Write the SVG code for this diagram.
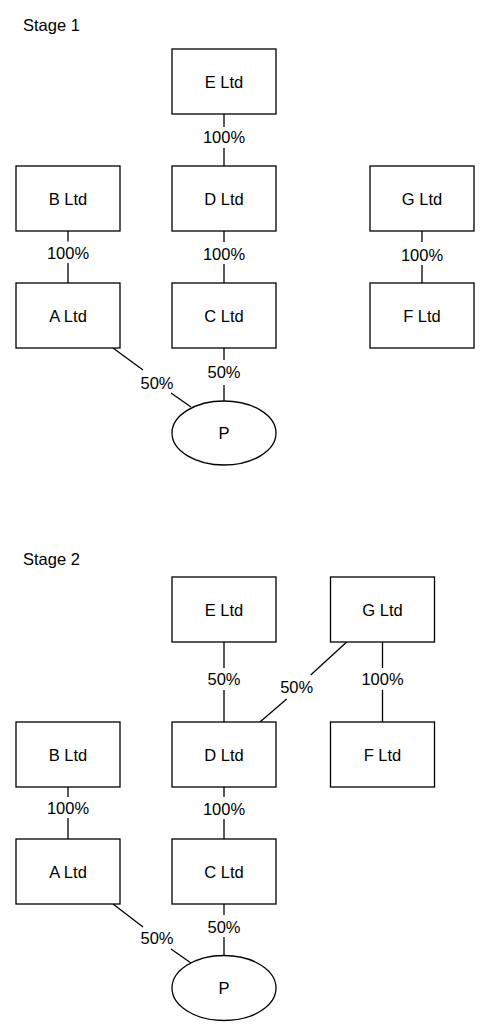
<svg xmlns="http://www.w3.org/2000/svg" width="490" height="1036" viewBox="0 0 490 1036">
<style>
  text { font-family: "Liberation Sans", Arial, sans-serif; font-size: 16.5px; fill: #000; }
  .lbl { text-anchor: middle; }
  .box { fill: #fff; stroke: #000; stroke-width: 1.3; }
  .con line { stroke: #000; stroke-width: 1.3; }
</style>
<rect width="490" height="1036" fill="#fff"/>
<text x="23" y="31">Stage 1</text>
<text x="23" y="565">Stage 2</text>

<g id="connectors" class="con">
  <!-- Stage 1 -->
  <line x1="224" y1="114" x2="224" y2="127"/><line x1="224" y1="148" x2="224" y2="166"/>
  <line x1="68" y1="231" x2="68" y2="241.5"/><line x1="68" y1="263" x2="68" y2="283"/>
  <line x1="224" y1="231" x2="224" y2="242"/><line x1="224" y1="264" x2="224" y2="283"/>
  <line x1="422" y1="231" x2="422" y2="242"/><line x1="422" y1="265" x2="422" y2="283"/>
  <line x1="113" y1="348" x2="143" y2="370"/><line x1="171" y1="393" x2="191" y2="407"/>
  <line x1="224" y1="348" x2="224" y2="360"/><line x1="224" y1="385" x2="224" y2="401"/>
  <!-- Stage 2 -->
  <line x1="224" y1="642" x2="224" y2="668"/><line x1="224" y1="690" x2="224" y2="722"/>
  <line x1="382.5" y1="642" x2="382.5" y2="668"/><line x1="382.5" y1="690" x2="382.5" y2="722"/>
  <line x1="346.7" y1="642" x2="310.7" y2="675"/><line x1="286.7" y1="699" x2="260" y2="722"/>
  <line x1="68" y1="787" x2="68" y2="797"/><line x1="68" y1="818" x2="68" y2="839"/>
  <line x1="224" y1="787" x2="224" y2="797"/><line x1="224" y1="819" x2="224" y2="839"/>
  <line x1="113" y1="904" x2="143" y2="927"/><line x1="171" y1="949" x2="191" y2="963"/>
  <line x1="224" y1="904" x2="224" y2="915"/><line x1="224" y1="937" x2="224" y2="956"/>
  <!-- labels -->
  <text class="lbl" x="224" y="143">100%</text>
  <text class="lbl" x="68" y="258.5">100%</text>
  <text class="lbl" x="224" y="260">100%</text>
  <text class="lbl" x="422" y="261">100%</text>
  <text class="lbl" x="157" y="389">50%</text>
  <text class="lbl" x="224" y="378">50%</text>
  <text class="lbl" x="224" y="685">50%</text>
  <text class="lbl" x="382.5" y="685">100%</text>
  <text class="lbl" x="296.7" y="693">50%</text>
  <text class="lbl" x="68" y="814">100%</text>
  <text class="lbl" x="224" y="815">100%</text>
  <text class="lbl" x="157" y="944">50%</text>
  <text class="lbl" x="224" y="933">50%</text>
</g>

<!-- Stage 1 nodes -->
<g id="s1-E"><rect class="box" x="172" y="49" width="104" height="65"/><text class="lbl" x="224" y="87.5">E Ltd</text></g>
<g id="s1-B"><rect class="box" x="16" y="166" width="104" height="65"/><text class="lbl" x="68" y="204.5">B Ltd</text></g>
<g id="s1-D"><rect class="box" x="172" y="166" width="104" height="65"/><text class="lbl" x="224" y="204.5">D Ltd</text></g>
<g id="s1-G"><rect class="box" x="370" y="166" width="104" height="65"/><text class="lbl" x="422" y="204.5">G Ltd</text></g>
<g id="s1-A"><rect class="box" x="16" y="283" width="104" height="65"/><text class="lbl" x="68" y="321.5">A Ltd</text></g>
<g id="s1-C"><rect class="box" x="172" y="283" width="104" height="65"/><text class="lbl" x="224" y="321.5">C Ltd</text></g>
<g id="s1-F"><rect class="box" x="370" y="283" width="104" height="65"/><text class="lbl" x="422" y="321.5">F Ltd</text></g>
<g id="s1-P"><ellipse class="box" cx="224" cy="433" rx="52" ry="32"/><text class="lbl" x="224" y="438.5">P</text></g>

<!-- Stage 2 nodes -->
<g id="s2-E"><rect class="box" x="172" y="577" width="104" height="65"/><text class="lbl" x="224" y="615.5">E Ltd</text></g>
<g id="s2-G"><rect class="box" x="330.5" y="577" width="104" height="65"/><text class="lbl" x="382.5" y="615.5">G Ltd</text></g>
<g id="s2-B"><rect class="box" x="16" y="722" width="104" height="65"/><text class="lbl" x="68" y="760.5">B Ltd</text></g>
<g id="s2-D"><rect class="box" x="172" y="722" width="104" height="65"/><text class="lbl" x="224" y="760.5">D Ltd</text></g>
<g id="s2-F"><rect class="box" x="330.5" y="722" width="104" height="65"/><text class="lbl" x="382.5" y="760.5">F Ltd</text></g>
<g id="s2-A"><rect class="box" x="16" y="839" width="104" height="65"/><text class="lbl" x="68" y="877.5">A Ltd</text></g>
<g id="s2-C"><rect class="box" x="172" y="839" width="104" height="65"/><text class="lbl" x="224" y="877.5">C Ltd</text></g>
<g id="s2-P"><ellipse class="box" cx="224" cy="988" rx="52" ry="32.5"/><text class="lbl" x="224" y="993.5">P</text></g>
</svg>
